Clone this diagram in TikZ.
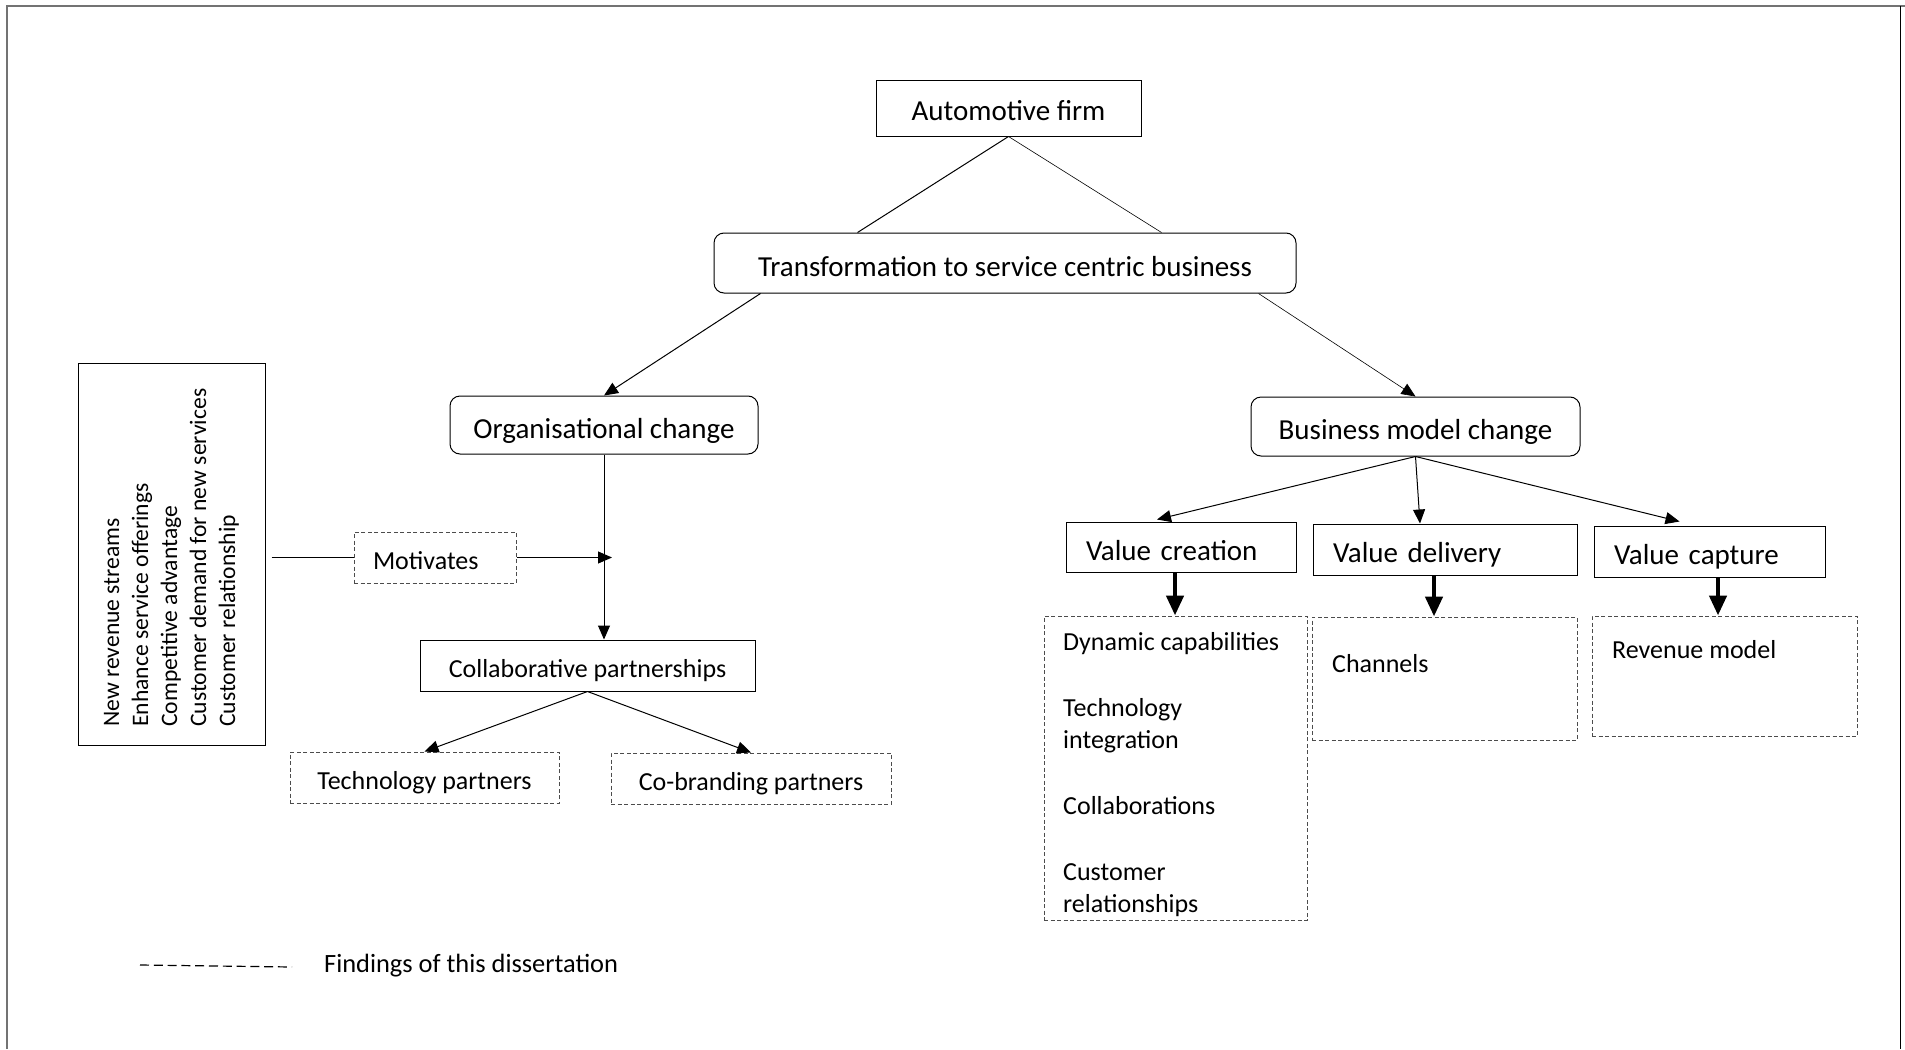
\documentclass[tikz,border=0pt]{standalone}
\usepackage{fontspec}
\setmainfont{Carlito}
\usetikzlibrary{arrows.meta}
\newcommand{\bigtxt}{\fontsize{29}{35}\selectfont}
\newcommand{\midtxt}{\fontsize{26}{32}\selectfont}
\newcommand{\smtxt}{\fontsize{23.6}{29}\selectfont}
\tikzset{
	rbox/.style 2 args={draw,line width=1pt,rounded corners=10pt,minimum width=#1,minimum height=#2,inner sep=0pt,text height=26pt,text depth=0pt,font=\bigtxt},
	sbox/.style 2 args={draw,line width=1pt,minimum width=#1,minimum height=#2,inner sep=0pt,text height=23.4pt,text depth=0pt,font=\midtxt},
	dbox/.style 2 args={draw=black!70,line width=1pt,dash pattern=on 4pt off 2.5pt,minimum width=#1,minimum height=#2,inner sep=0pt,text height=23.4pt,text depth=0pt,font=\midtxt},
	lbox/.style 2 args={draw,line width=1pt,text width=#1,minimum height=#2,inner xsep=20pt,inner ysep=0pt,text height=26pt,text depth=0pt,align=left,font=\bigtxt},
	arr/.style={-{Triangle[length=14pt,width=12pt]},line width=1pt},
	tarr/.style={-{Triangle[length=20pt,width=17pt]},line width=4.5pt}
}

\begin{document}
\begin{tikzpicture}[x=1pt,y=-1pt]
	\useasboundingbox (0,0) rectangle (1905,1049);
	% frame
	\draw[black!55,line width=2pt] (7,1049) -- (7,6) -- (1905,6);
	\draw[line width=1pt] (1900,6) -- (1900,1049);

	\node [sbox={265pt}{56pt},font=\bigtxt,text height=25pt] (firm) at (1008.5,108) {Automotive firm};
	\node [rbox={582pt}{60pt}] (trans) at (1005,263) {Transformation to service centric business};
	\node [rbox={308pt}{58pt}] (org) at (604,425) {Organisational change};
	\node [rbox={329pt}{59pt}] (bm) at (1415.5,426.5) {Business model change};

	\node [sbox={187pt}{382pt}] (why) at (171.5,554) {};
	\node [rotate=90,anchor=west,align=left,inner sep=0pt,font=\smtxt] (whytxt) at (171.5,727) {New revenue streams\\Enhance service offerings\\Competitive advantage\\Customer demand for new services\\Customer relationship};
	\node [dbox={162pt}{51pt},text width=124pt,inner xsep=19pt,align=left] (motiv) at (435,557.5) {Motivates};
	\node [sbox={335pt}{51pt}] (collab) at (587.5,665.5) {Collaborative partnerships};
	\node [dbox={269pt}{51pt}] (techp) at (424.5,777.5) {Technology partners};
	\node [dbox={280pt}{51pt}] (cobrand) at (751,778.5) {Co-branding partners};

	\node [lbox={190pt}{50pt}] (valcre) at (1181,547) {Value creation};
	\node [lbox={224pt}{51pt}] (valdel) at (1445,549.5) {Value delivery};
	\node [lbox={191pt}{51pt}] (valcap) at (1709.5,551.5) {Value capture};

	\node [dbox={263pt}{304pt}] (vcbox) at (1175.5,768) {};
	\node [dbox={265pt}{123pt}] (vdbox) at (1444.5,678.5) {};
	\node [dbox={265pt}{120pt}] (vpbox) at (1724.5,676) {};
	\node [anchor=north west,align=left,inner sep=0pt,font=\midtxt] (vclist) at (1063,632) {Dynamic capabilities\\[34pt]Technology\\integration\\[34pt]Collaborations\\[34pt]Customer\\relationships};
	\node [anchor=base west,inner sep=0pt,font=\midtxt] (chan) at (1332,672) {Channels};
	\node [anchor=base west,inner sep=0pt,font=\midtxt] (revm) at (1612,658) {Revenue model};

	% legend
	\coordinate (lgA) at (140,965);
	\node [anchor=west,inner sep=0pt,font=\fontsize{26.4}{32}\selectfont] (lgtxt) at (324,966) {Findings of this dissertation};
	\draw[line width=1.2pt,dash pattern=on 9pt off 4.8pt] (lgA) -- ([xshift=-32pt,yshift=-1pt]lgtxt.west);

	\draw[line width=1pt] (firm.south) -- ([xshift=144pt]trans.north west);
	\draw[line width=0.6pt] (firm.south) -- ([xshift=448pt]trans.north west);
	\draw[arr] ([xshift=47pt]trans.south west) -- (org.north);
	\draw[arr,line width=0.6pt] ([xshift=-38pt]trans.south east) -- (bm.north);

	\coordinate (mhit) at ([xshift=8pt]org.south |- motiv.east);
	\draw[line width=1pt] ([xshift=6pt]why.east |- motiv.west) -- (motiv.west);
	\draw[arr] (motiv.east) -- (mhit);
	\draw[arr] (org.south) -- (org.south |- collab.north);
	\draw[arr] (collab.south) -- (techp.north);
	\draw[arr] (collab.south) -- (cobrand.north);

	\draw[arr] (bm.south) -- ([xshift=-24pt,yshift=2pt]valcre.north);
	\draw[arr] (bm.south) -- ([xshift=-25pt]valdel.north);
	\draw[arr] (bm.south) -- ([xshift=-30pt,yshift=4pt]valcap.north);
	\draw[tarr] ([xshift=-6pt]valcre.south) -- ([xshift=-6pt]valcre.south |- vcbox.north);
	\draw[tarr] ([xshift=-11pt]valdel.south) -- ([xshift=-11pt]valdel.south |- vdbox.north);
	\draw[tarr] ([xshift=8.5pt]valcap.south) -- ([xshift=8.5pt]valcap.south |- vpbox.north);
\end{tikzpicture}
\end{document}
